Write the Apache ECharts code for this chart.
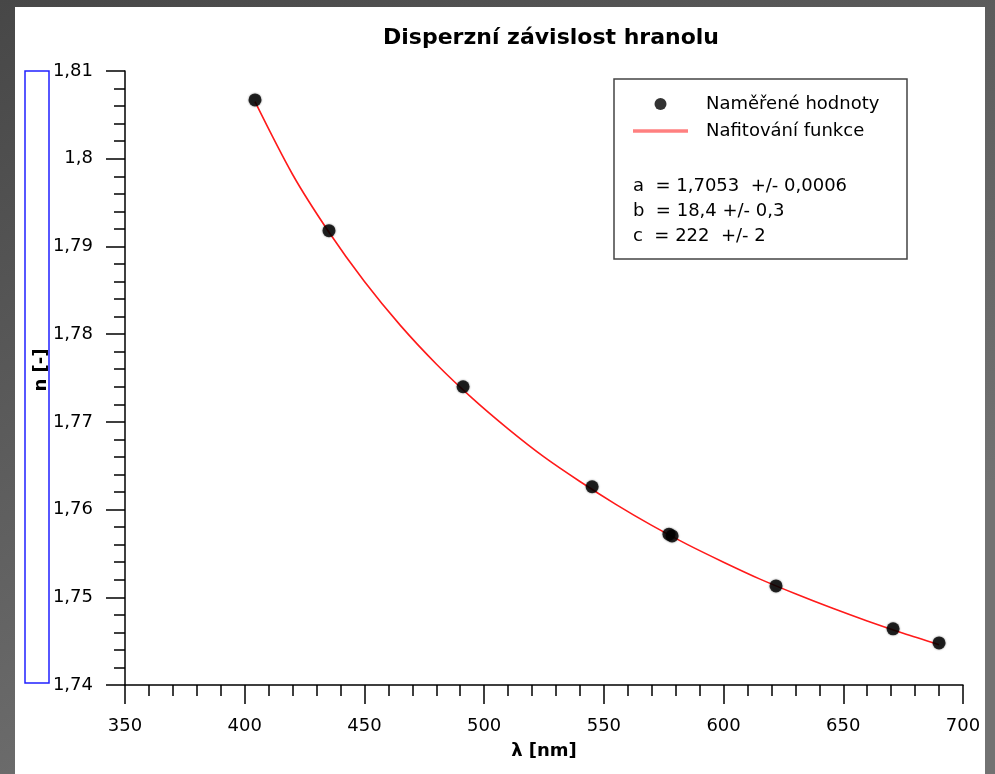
<!DOCTYPE html>
<html>
<head>
<meta charset="utf-8">
<script src="https://cdn.jsdelivr.net/npm/echarts@6/dist/echarts.min.js"></script>
<style>
html,body{margin:0;padding:0;background:#4b4b4b;}
#c{width:995px;height:774px;}
</style>
</head>
<body>
<div id="c"></div>
<script>
// Data
const titleText = 'Disperzní závislost hranolu';
const xAxisName = 'λ [nm]';
const yAxisName = 'n [-]';
const seriesMeasuredName = 'Naměřené hodnoty';
const seriesFitName = 'Nafitování funkce';
const fitParams = ['a  = 1,7053  +/- 0,0006', 'b  = 18,4 +/- 0,3', 'c  = 222  +/- 2'];

const measuredX = [404.3, 435.2, 491.2, 545.1, 577.2, 578.5, 621.9, 670.8, 690.0];
const measuredN = [1.8067, 1.7918, 1.7740, 1.7626, 1.7572, 1.7570, 1.7513, 1.7464, 1.7448];

const fitX = [404.3, 420, 435, 450, 465, 480, 495, 510, 525, 540, 555, 570, 585, 600, 615, 630, 645, 660, 675, 690];
const fitN = [1.8065, 1.7982, 1.7917, 1.7860, 1.7810, 1.7766, 1.7727, 1.7692, 1.7660, 1.7632, 1.7606, 1.7582, 1.7560, 1.7540, 1.7521, 1.7504, 1.7488, 1.7473, 1.7459, 1.7446];

const FONT = '"DejaVu Sans", Verdana, sans-serif';
const chart = echarts.init(document.getElementById('c'));

const fmtComma = v => parseFloat(Number(v).toFixed(4)).toString().replace('.', ',');

chart.setOption({
  animation: false,
  backgroundColor: {
    type: 'linear', x: 0, y: 0, x2: 0.35, y2: 1,
    colorStops: [{offset: 0, color: '#474747'}, {offset: 1, color: '#727272'}]
  },
  title: {
    text: titleText,
    left: 546, top: 22, textAlign: 'center',
    textStyle: {fontFamily: FONT, fontSize: 22, fontWeight: 'bold', color: '#000'}
  },
  grid: {left: 125, right: 32, top: 71, bottom: 89},
  legend: {
    orient: 'vertical',
    left: 628, top: 90,
    itemWidth: 55, itemHeight: 12, itemGap: 9,
    textStyle: {fontFamily: FONT, fontSize: 18, color: '#000', padding: [0, 0, 0, 13]},
    data: [
      {name: seriesMeasuredName, icon: 'circle', itemStyle: {color: '#000'}},
      {name: seriesFitName, icon: 'path://M0,0 L55,0 L55,3.5 L0,3.5 Z', itemStyle: {color: '#ff8080'}}
    ]
  },
  xAxis: {
    type: 'value', min: 350, max: 700, interval: 50,
    name: xAxisName, nameLocation: 'middle', nameGap: 57,
    nameTextStyle: {fontFamily: FONT, fontSize: 18, fontWeight: 'bold', color: '#000'},
    axisLine: {show: true, onZero: false, lineStyle: {color: '#000', width: 1.5}},
    axisTick: {show: true, length: 19, lineStyle: {color: '#000', width: 1.5}},
    minorTick: {show: true, splitNumber: 5, length: 11, lineStyle: {color: '#000', width: 1.5}},
    axisLabel: {margin: 32, fontFamily: FONT, fontSize: 18, color: '#000'},
    splitLine: {show: false}
  },
  yAxis: {
    type: 'value', min: 1.74, max: 1.81, interval: 0.01,
    name: yAxisName, nameLocation: 'middle', nameGap: 75, nameRotate: 90, nameMoveOverlap: false,
    nameTextStyle: {fontFamily: FONT, fontSize: 18, fontWeight: 'bold', color: '#000', padding: [0, 0, 0, 16]},
    axisLine: {show: true, onZero: false, lineStyle: {color: '#000', width: 1.5}},
    axisTick: {show: true, length: 19, lineStyle: {color: '#000', width: 1.5}},
    minorTick: {show: true, splitNumber: 5, length: 11, lineStyle: {color: '#000', width: 1.5}},
    axisLabel: {margin: 32, fontFamily: FONT, fontSize: 18, color: '#000', formatter: fmtComma},
    splitLine: {show: false}
  },
  graphic: [
    {type: 'rect', z: -10, shape: {x: 15, y: 7, width: 970, height: 767}, style: {fill: '#fff'}},
    {type: 'rect', z: 10, shape: {x: 25, y: 71, width: 24, height: 612}, style: {fill: 'none', stroke: '#2020ff', lineWidth: 1.5}},
    {type: 'rect', z: 10, shape: {x: 614, y: 79, width: 293, height: 180}, style: {fill: 'none', stroke: '#444', lineWidth: 1.5}},
    {type: 'text', z: 10, left: 633, top: 177, style: {text: fitParams[0], font: '18px ' + FONT, fill: '#000'}},
    {type: 'text', z: 10, left: 633, top: 202, style: {text: fitParams[1], font: '18px ' + FONT, fill: '#000'}},
    {type: 'text', z: 10, left: 633, top: 227, style: {text: fitParams[2], font: '18px ' + FONT, fill: '#000'}}
  ],
  series: [
    {
      name: seriesFitName, type: 'line', symbol: 'none', smooth: 0.3, z: 2,
      itemStyle: {color: '#ff1a1a'},
      lineStyle: {color: '#ff1a1a', width: 1.6},
      data: fitX.map((x, i) => [x, fitN[i]])
    },
    {
      name: seriesMeasuredName, type: 'scatter', symbol: 'circle', symbolSize: 13, z: 3,
      itemStyle: {color: '#000', shadowBlur: 2, shadowColor: 'rgba(0,0,0,0.6)'},
      data: measuredX.map((x, i) => [x, measuredN[i]])
    }
  ]
});
</script>
</body>
</html>
